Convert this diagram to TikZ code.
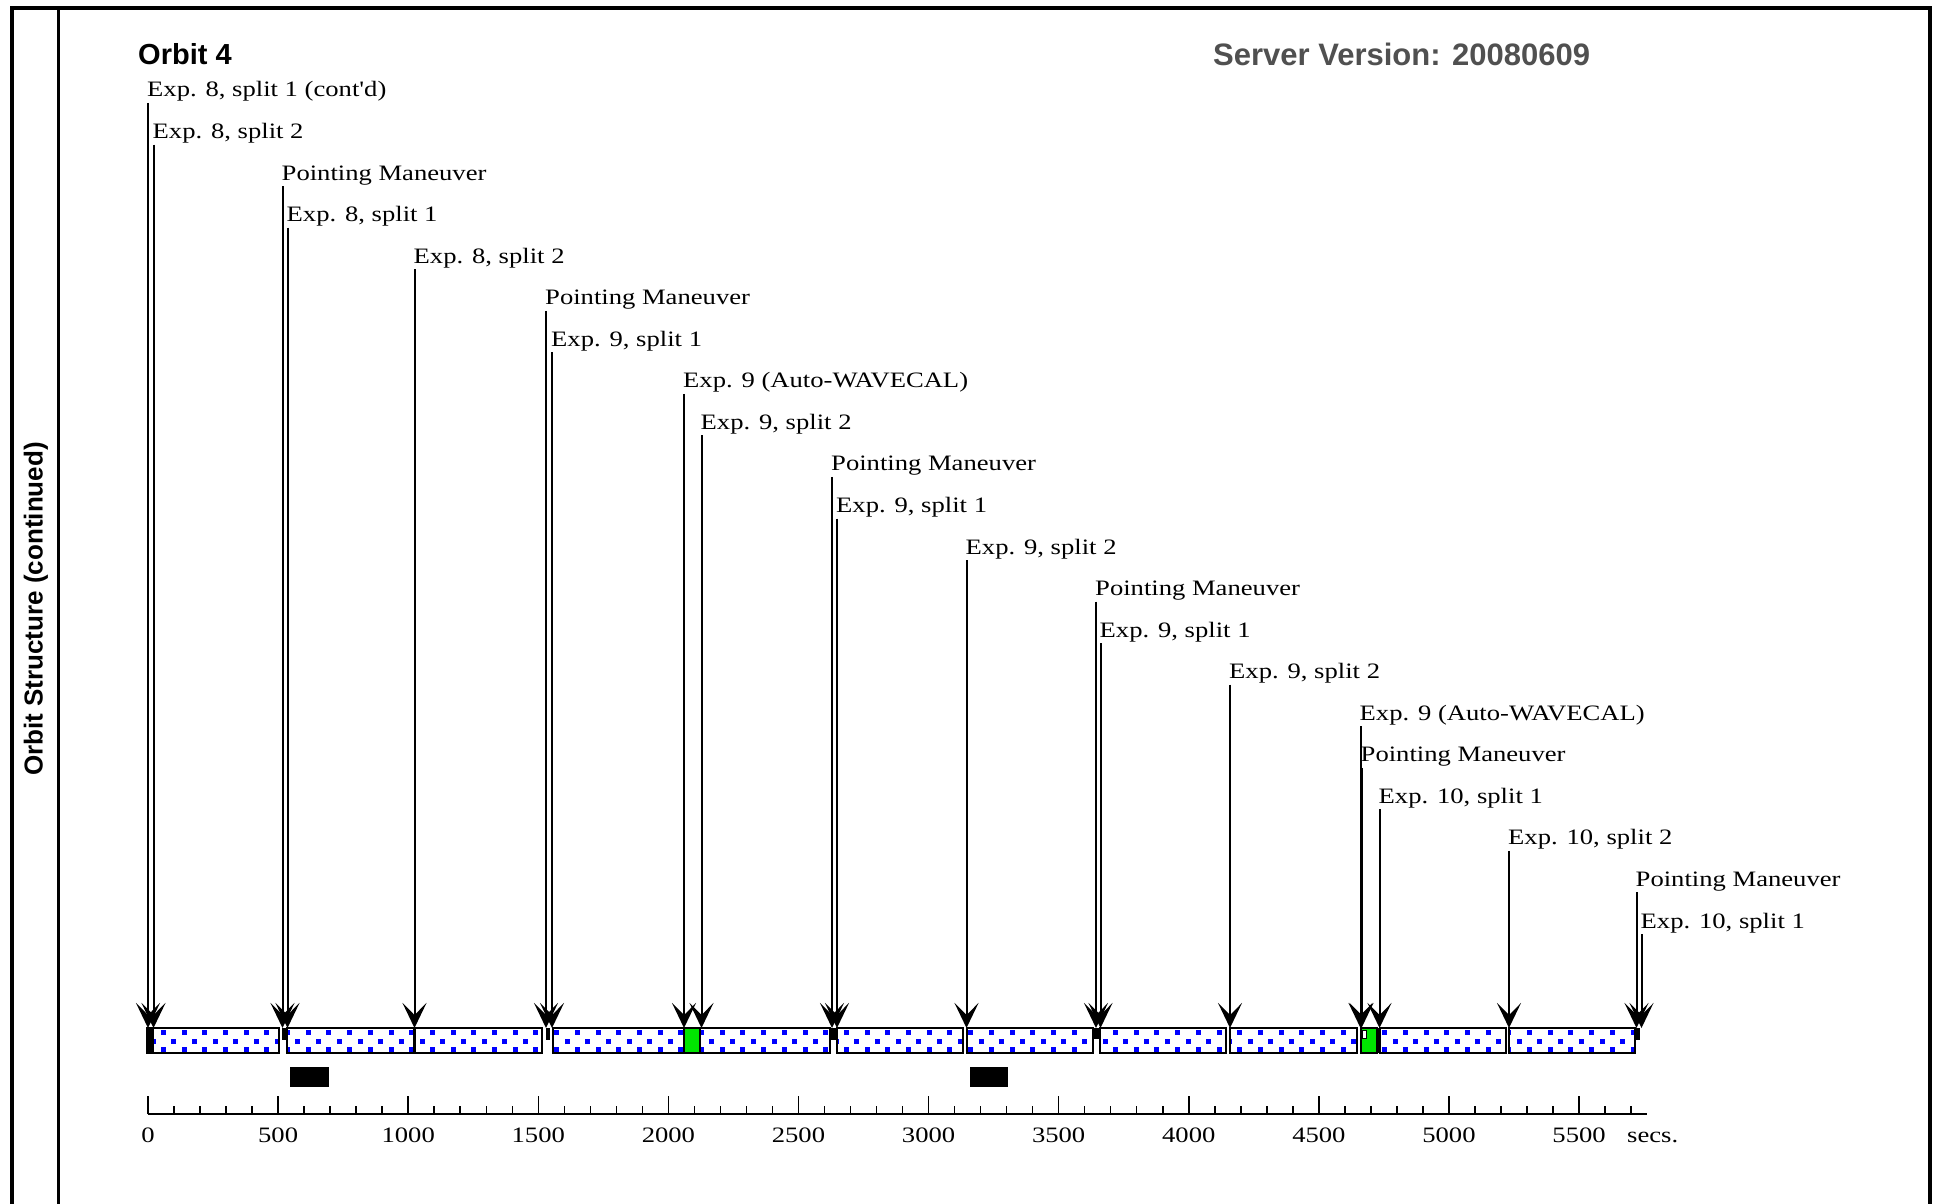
\documentclass[tikz,border=0pt]{standalone}
\usepackage{fontspec}
\setmainfont{Liberation Serif}
\newfontfamily\labfont[FakeStretch=1.21]{Liberation Serif}
\newfontfamily\hdfont{Liberation Sans}
\usetikzlibrary{arrows.meta}
\definecolor{dotblue}{RGB}{0,0,255}
\definecolor{calgreen}{RGB}{0,230,0}
\definecolor{servergray}{RGB}{80,80,80}
\tikzset{
  lab/.style={anchor=base west, inner sep=0pt, font=\labfont\fontsize{22}{22}\selectfont},
  ticklab/.style={anchor=base, inner sep=0pt, font=\labfont\fontsize{22}{22}\selectfont},
  evarrow/.style={line width=2pt, -{Stealth[length=25pt,width=24pt,inset=12pt]}},
  segbox/.style={draw=black, line width=2pt},
  calbox/.style={draw=black, line width=2pt, fill=calgreen},
  markbox/.style={fill=black},
  headtext/.style={anchor=base west, inner sep=0pt, font=\hdfont\bfseries\fontsize{29}{29}\selectfont},
  frameline/.style={line width=4pt},
  blackbar/.style={fill=black},
}
\begin{document}
\begin{tikzpicture}[x=1pt,y=-1pt]
\useasboundingbox (0,0) rectangle (1939,1204);
\fill[white] (0,0) rectangle (1939,1204);
% frame
\draw[frameline] (12,1204) -- (12,8) -- (1930,8) -- (1930,1204);
\draw[line width=3.5pt] (58.5,8) -- (58.5,1204);
\node[rotate=90, inner sep=0pt, font=\hdfont\bfseries\fontsize{26}{26}\selectfont] (side) at (36,609) {Orbit Structure (continued)};
% headings
\node[headtext] (orbit) at (138,65) {Orbit 4};
\node[headtext, text=servergray, font=\hdfont\bfseries\fontsize{31}{31}\selectfont] (server) at (1213,66) {Server Version: 20080609};
% dotted segments
\begin{scope}
\clip (147,1028) rectangle (279,1053)
      (287,1028) rectangle (541.5,1053)
      (553,1028) rectangle (684,1053)
      (700,1028) rectangle (830,1053)
      (837,1028) rectangle (963,1053)
      (967,1028) rectangle (1093,1053)
      (1100,1028) rectangle (1226,1053)
      (1230,1028) rectangle (1357,1053)
      (1380,1028) rectangle (1506,1053)
      (1509,1028) rectangle (1635,1053);
\foreach \k in {-1,...,73} {
  \fill[dotblue] ({160.8+20.7*\k},1029.8) rectangle +(5,5);
  \fill[dotblue] ({150.5+20.7*\k},1038.5) rectangle +(5,5);
  \fill[dotblue] ({160.8+20.7*\k},1046.8) rectangle +(5,5);
}
\end{scope}
\foreach \a/\b in {147/279, 287/414.5, 414.5/541.5, 553/684, 700/830, 837/963, 967/1093, 1100/1226, 1230/1357, 1380/1506, 1509/1635}
  \draw[segbox] (\a,1028) rectangle (\b,1053);
\draw[calbox] (684,1028) rectangle (700,1053);
\draw[calbox] (1360.5,1028) rectangle (1377,1053);
\draw[fill=white, draw=black, line width=1pt] (1362,1030) rectangle (1366,1038);
% black marks
\fill[markbox] (147,1028) rectangle (153.5,1053);
\fill[markbox] (282,1028) rectangle (287,1040);
\fill[markbox] (413,1028) rectangle (416,1053);
\fill[markbox] (545.5,1028) rectangle (550,1040);
\fill[markbox] (830,1028) rectangle (837,1040);
\fill[markbox] (1093,1028) rectangle (1100,1039);
\fill[markbox] (1376.5,1028) rectangle (1380.5,1053);
\fill[markbox] (1635,1028) rectangle (1640,1040);
% black blocks below
\fill[blackbar] (290,1067) rectangle (329,1087);
\fill[blackbar] (969.5,1067) rectangle (1007.5,1087);
% event labels and arrows
\foreach \x/\t [count=\i] in {
  148/{Exp. 8, split 1 (cont'd)},
  153.5/{Exp. 8, split 2},
  282.5/{Pointing Maneuver},
  287.5/{Exp. 8, split 1},
  414.5/{Exp. 8, split 2},
  546/{Pointing Maneuver},
  552/{Exp. 9, split 1},
  684/{Exp. 9 (Auto-WAVECAL)},
  701.5/{Exp. 9, split 2},
  832/{Pointing Maneuver},
  837/{Exp. 9, split 1},
  966.5/{Exp. 9, split 2},
  1096/{Pointing Maneuver},
  1100.5/{Exp. 9, split 1},
  1230/{Exp. 9, split 2},
  1360.5/{Exp. 9 (Auto-WAVECAL)},
  1361.5/{Pointing Maneuver},
  1379.5/{Exp. 10, split 1},
  1509/{Exp. 10, split 2},
  1636.5/{Pointing Maneuver},
  1641.5/{Exp. 10, split 1}} {
  \pgfmathsetmacro\yb{97+41.55*(\i-1)}
  \node[lab] (l\i) at (\x-1,\yb) {\t};
  \coordinate (s\i) at (\x,\yb+6);
  \coordinate (e\i) at (\x,1028);
  \draw[evarrow] (s\i) -- (e\i);
}
% time axis
\coordinate (ax0) at (148,1114);
\coordinate (ax1) at (1647,1114);
\draw[line width=2pt] (ax0) -- (ax1);
\foreach \t in {0,100,...,5700}
  \draw[line width=1.5pt] ({148+0.2602*\t},1114) -- ++(0,-8);
\foreach \t in {0,500,...,5500} {
  \draw[line width=1.5pt] ({148+0.2602*\t},1114) -- ++(0,-18);
  \node[ticklab] (tl\t) at ({148+0.2602*\t},1142) {\t};
}
\node[ticklab, anchor=base west] (secs) at (1627,1142) {secs.};
\end{tikzpicture}
\end{document}
